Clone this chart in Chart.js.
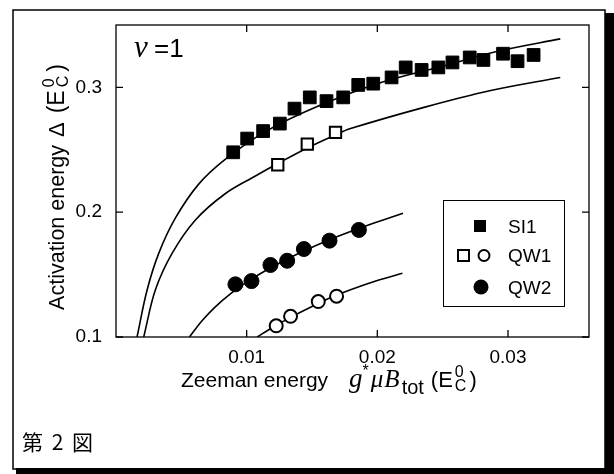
<!DOCTYPE html>
<html>
<head>
<meta charset="utf-8">
<script src="https://cdn.jsdelivr.net/npm/chart.js@4.4.0/dist/chart.umd.min.js"></script>
<style>
  html, body { margin: 0; padding: 0; background: #fff; }
  #plot { display: block; }
</style>
</head>
<body>
<canvas id="plot" width="614" height="474"></canvas>
<script>
// measured points, SI1 (filled squares)
const si1X = [0.00897, 0.01004, 0.01126, 0.01254, 0.01366, 0.01483, 0.01611, 0.01739, 0.01854, 0.01969,
              0.02109, 0.02217, 0.02339, 0.02467, 0.02575, 0.02707, 0.02812, 0.02962, 0.03073, 0.03196];
const si1Y = [0.248, 0.259, 0.265, 0.271, 0.283, 0.292, 0.289, 0.292, 0.302, 0.303,
              0.308, 0.316, 0.314, 0.316, 0.320, 0.324, 0.322, 0.327, 0.321, 0.326];

// QW1 open squares / open circles
const qw1SqX = [0.01238, 0.01464, 0.0168];
const qw1SqY = [0.238, 0.2545, 0.264];
const qw1CircX = [0.01226, 0.01336, 0.01548, 0.01688];
const qw1CircY = [0.109, 0.1166, 0.1284, 0.1327];

// QW2 filled circles
const qw2X = [0.00914, 0.01037, 0.01182, 0.0131, 0.01438, 0.01634, 0.01859];
const qw2Y = [0.1422, 0.1448, 0.1577, 0.1611, 0.1705, 0.1772, 0.1858];

// theory curves
const fitAX = [0.00161, 0.00238, 0.00327, 0.00454, 0.00633, 0.00838, 0.0115, 0.0154, 0.020, 0.025, 0.0292, 0.0340];
const fitAY = [0.1, 0.1376, 0.167, 0.1952, 0.2225, 0.2425, 0.265, 0.2847, 0.303, 0.317, 0.3289, 0.3389];
const fitBX = [0.00212, 0.00301, 0.00429, 0.00608, 0.00838, 0.01067, 0.01238, 0.01464, 0.0168, 0.01795, 0.02357, 0.02868, 0.0340];
const fitBY = [0.1, 0.1376, 0.167, 0.1938, 0.215, 0.229, 0.239, 0.2515, 0.262, 0.267, 0.284, 0.2975, 0.308];
const fitCX = [0.00562, 0.0066, 0.0076, 0.0088, 0.0100, 0.0115, 0.0130, 0.0145, 0.0160, 0.0175, 0.0190, 0.0205, 0.02197];
const fitCY = [0.1, 0.1132, 0.1242, 0.135, 0.144, 0.1535, 0.1619, 0.1695, 0.1766, 0.1828, 0.1885, 0.194, 0.1992];
const fitDX = [0.0108, 0.0120, 0.0135, 0.0150, 0.0165, 0.0180, 0.0200, 0.02192];
const fitDY = [0.1, 0.1078, 0.1165, 0.1245, 0.1318, 0.138, 0.1452, 0.151];

const xTicks = [0.01, 0.02, 0.03];
const xTickLabels = ["0.01", "0.02", "0.03"];
const yTicks = [0.1, 0.2, 0.3];
const yTickLabels = ["0.1", "0.2", "0.3"];

const SANS = '"Liberation Sans", Arial, sans-serif';
const SERIF = '"Liberation Serif", "Times New Roman", serif';

function pts(xs, ys) {
    return xs.map((x, i) => ({ x: x, y: ys[i] }));
}

function curve(xs, ys) {
    return {
        type: 'line',
        data: pts(xs, ys),
        borderColor: '#000',
        borderWidth: 1.6,
        pointRadius: 0,
        fill: false,
        tension: 0.35,
        order: 2
    };
}

function marks(xs, ys, style, radius, filled) {
    return {
        type: 'scatter',
        data: pts(xs, ys),
        pointStyle: style,
        pointRadius: radius,
        pointBackgroundColor: filled ? '#000' : '#fff',
        pointBorderColor: '#000',
        pointBorderWidth: filled ? 1 : 2,
        order: 1
    };
}

// draws a row of text runs, returns its width
function runs(ctx, list, x, y, measureOnly) {
    let cx = x;
    list.forEach(r => {
        if (r.gap) { cx += r.gap; return; }
        ctx.font = r.f;
        let w = ctx.measureText(r.t).width;
        if (!measureOnly) ctx.fillText(r.t, cx, y + (r.dy || 0));
        if (!r.keep) cx += w + (r.sp || 0);
    });
    return cx - x;
}

const decor = {
    id: 'decor',
    beforeDraw(chart) {
        let ctx = chart.ctx;
        ctx.save();
        ctx.fillStyle = '#fff';
        ctx.fillRect(0, 0, chart.width, chart.height);
        // page frame with a heavy edge on right and bottom
        ctx.strokeStyle = '#000';
        ctx.lineWidth = 1.5;
        ctx.strokeRect(13, 10, 592, 459);
        ctx.fillStyle = '#000';
        ctx.fillRect(605, 13, 9, 461);
        ctx.fillRect(16, 468, 598, 6);
        ctx.restore();
    },
    afterDraw(chart) {
        let ctx = chart.ctx;
        let a = chart.chartArea;
        let xs = chart.scales.x, ys = chart.scales.y;
        ctx.save();
        ctx.strokeStyle = '#000';
        ctx.fillStyle = '#000';
        ctx.lineWidth = 1.3;
        ctx.strokeRect(a.left, a.top, a.right - a.left, a.bottom - a.top);

        // inward ticks on all four sides
        ctx.beginPath();
        xTicks.forEach(v => {
            let p = xs.getPixelForValue(v);
            ctx.moveTo(p, a.bottom); ctx.lineTo(p, a.bottom - 7);
            ctx.moveTo(p, a.top); ctx.lineTo(p, a.top + 7);
        });
        yTicks.forEach(v => {
            let p = ys.getPixelForValue(v);
            ctx.moveTo(a.left, p); ctx.lineTo(a.left + 7, p);
            ctx.moveTo(a.right, p); ctx.lineTo(a.right - 7, p);
        });
        ctx.stroke();

        ctx.textBaseline = 'alphabetic';
        ctx.textAlign = 'left';

        // nu = 1
        ctx.font = 'italic 31px ' + SERIF;
        ctx.fillText('\u03BD', 134, 57);
        ctx.font = '26px ' + SANS;
        ctx.fillText('=1', 154, 57);

        // legend box
        ctx.lineWidth = 1;
        ctx.strokeRect(443.5, 200.5, 121, 106);
        ctx.font = '19px ' + SANS;
        ctx.fillText('SI1', 508, 233);
        ctx.fillText('QW1', 508, 262);
        ctx.fillText('QW2', 508, 294);
        ctx.fillRect(474, 220, 12, 12);
        ctx.lineWidth = 2;
        ctx.strokeRect(458, 250, 11, 11);
        ctx.beginPath();
        ctx.arc(484, 255.5, 5.5, 0, Math.PI * 2);
        ctx.stroke();
        ctx.beginPath();
        ctx.arc(481, 287, 7.5, 0, Math.PI * 2);
        ctx.fill();

        // x axis title
        let xt = [
            { t: 'Zeeman energy', f: '21px ' + SANS },
            { gap: 21 },
            { t: 'g', f: 'italic 27px ' + SERIF },
            { t: '*', f: '16px ' + SANS, dy: -11, sp: 2 },
            { t: '\u03BC', f: 'italic 25px ' + SERIF, sp: 1 },
            { t: 'B', f: 'italic 25px ' + SERIF, sp: 2 },
            { t: 'tot', f: '20px ' + SANS, dy: 7, sp: 7 },
            { t: '(E', f: '22px ' + SANS, sp: 2 },
            { t: '0', f: '16px ' + SANS, dy: -10, keep: true },
            { t: 'C', f: '16px ' + SANS, dy: 4, sp: 3 },
            { t: ')', f: '22px ' + SANS }
        ];
        runs(ctx, xt, 181, 387);

        // y axis title
        let yt = [
            { t: 'Activation energy', f: '21.5px ' + SANS },
            { gap: 8 },
            { t: '\u0394', f: '22px ' + SANS, sp: 9 },
            { t: '(E', f: '23px ' + SANS, sp: 3 },
            { t: '0', f: '16px ' + SANS, dy: -10, keep: true },
            { t: 'C', f: '16px ' + SANS, dy: 4, sp: 4 },
            { t: ')', f: '23px ' + SANS }
        ];
        let w = runs(ctx, yt, 0, 0, true);
        ctx.translate(64, 187);
        ctx.rotate(-Math.PI / 2);
        runs(ctx, yt, -w / 2, 0);
        ctx.restore();

        // figure caption
        ctx.save();
        ctx.fillStyle = '#000';
        ctx.font = '21px "Noto Sans CJK JP", sans-serif';
        ctx.letterSpacing = '2px';
        ctx.fillText('第 2 図', 22, 450);
        ctx.restore();
    }
};

new Chart(document.getElementById('plot'), {
    data: {
        datasets: [
            curve(fitAX, fitAY),
            curve(fitBX, fitBY),
            curve(fitCX, fitCY),
            curve(fitDX, fitDY),
            marks(si1X, si1Y, 'rect', 9, true),
            marks(qw1SqX, qw1SqY, 'rect', 8, false),
            marks(qw1CircX, qw1CircY, 'circle', 6.5, false),
            marks(qw2X, qw2Y, 'circle', 7.5, true)
        ]
    },
    options: {
        responsive: false,
        animation: false,
        devicePixelRatio: 1,
        layout: { padding: { left: 0, top: 25, right: 25, bottom: 0 } },
        plugins: {
            legend: { display: false },
            tooltip: { enabled: false }
        },
        scales: {
            x: {
                type: 'linear',
                min: 0,
                max: 0.0362,
                grid: { display: false },
                border: { display: false },
                afterBuildTicks: axis => { axis.ticks = xTicks.map(v => ({ value: v })); },
                afterFit: axis => { axis.height = 137; },
                ticks: {
                    color: '#000',
                    font: { family: SANS, size: 19 },
                    padding: 1,
                    maxRotation: 0,
                    callback: (v, i) => xTickLabels[i]
                }
            },
            y: {
                type: 'linear',
                min: 0.1,
                max: 0.35,
                grid: { display: false },
                border: { display: false },
                afterBuildTicks: axis => { axis.ticks = yTicks.map(v => ({ value: v })); },
                afterFit: axis => { axis.width = 116; },
                ticks: {
                    color: '#000',
                    font: { family: SANS, size: 19 },
                    padding: 6,
                    callback: (v, i) => yTickLabels[i]
                }
            }
        }
    },
    plugins: [decor]
});
</script>
</body>
</html>
